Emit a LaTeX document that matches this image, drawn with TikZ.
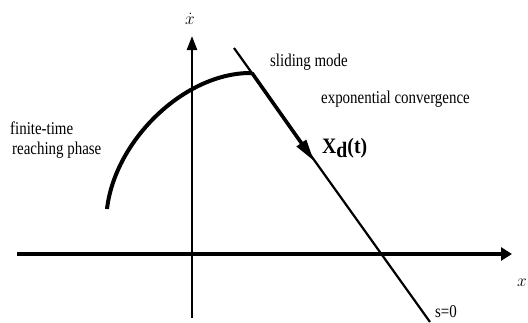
\documentclass[tikz,border=0pt]{standalone}
\usepackage{fontspec}
\setmainfont{Liberation Serif}
\usetikzlibrary{arrows.meta, positioning}
\tikzset{
	lbl/.style     ={inner sep=0pt, font=\fontsize{18}{20}\selectfont, xscale=0.83},
	xaxis/.style   ={-{Triangle[length=11pt, width=13pt]}, line width=3.2pt},
	yaxis/.style   ={-{Triangle[length=14pt, width=10pt]}, line width=2.4pt},
	surf/.style    ={line width=2.2pt},
	reach/.style   ={line width=4pt},
	slide/.style   ={-{Triangle[length=22pt, width=11pt]}, line width=3.6pt},
}

\begin{document}
\begin{tikzpicture}[x=1pt, y=-1pt]
	\useasboundingbox (0,0) rectangle (528,322);
	% axes
	\coordinate (xl) at (17,254);
	\coordinate (xr) at (512,254);
	\coordinate (yb) at (192,318);
	\coordinate (yt) at (192,36);
	\draw[xaxis] (xl) -- (xr);
	\draw[yaxis] (yb) -- (yt);
	\node[inner sep=0pt] (xdot) at (190,19) {\fontsize{17}{18}\selectfont$\dot{x}$};
	\node[anchor=east, inner sep=0pt] (xlab) at (527,283) {\fontsize{16}{18}\selectfont$x$};
	% sliding surface
	\coordinate (stop) at (234,48);
	\coordinate (sbot) at (430,322);
	\draw[surf] (stop) -- (sbot);
	\node[lbl] (s0) at (446,312) {s=0};
	% reaching curve and sliding motion
	\coordinate (start) at (107,209);
	\coordinate (hit) at (252,73);
	\coordinate (tip) at (314,161);
	\draw[reach] (start) .. controls (115,140) and (185,72) .. (hit);
	\draw[slide] (hit) -- (tip);
	% labels
	\node[lbl, anchor=west] (fin) at (10,128) {finite-time};
	\node[lbl, anchor=west] (rea) at (12,150) {reaching phase};
	\node[lbl, anchor=west] (sm) at (270,62) {sliding mode};
	\node[lbl, anchor=west] (ec) at (321,99) {exponential convergence};
	\node[anchor=west, inner sep=0pt, font=\fontsize{22}{24}\selectfont\bfseries, xscale=0.9] (xd) at (322,148) {X\raisebox{-0.45ex}{d}(t)};
\end{tikzpicture}
\end{document}
